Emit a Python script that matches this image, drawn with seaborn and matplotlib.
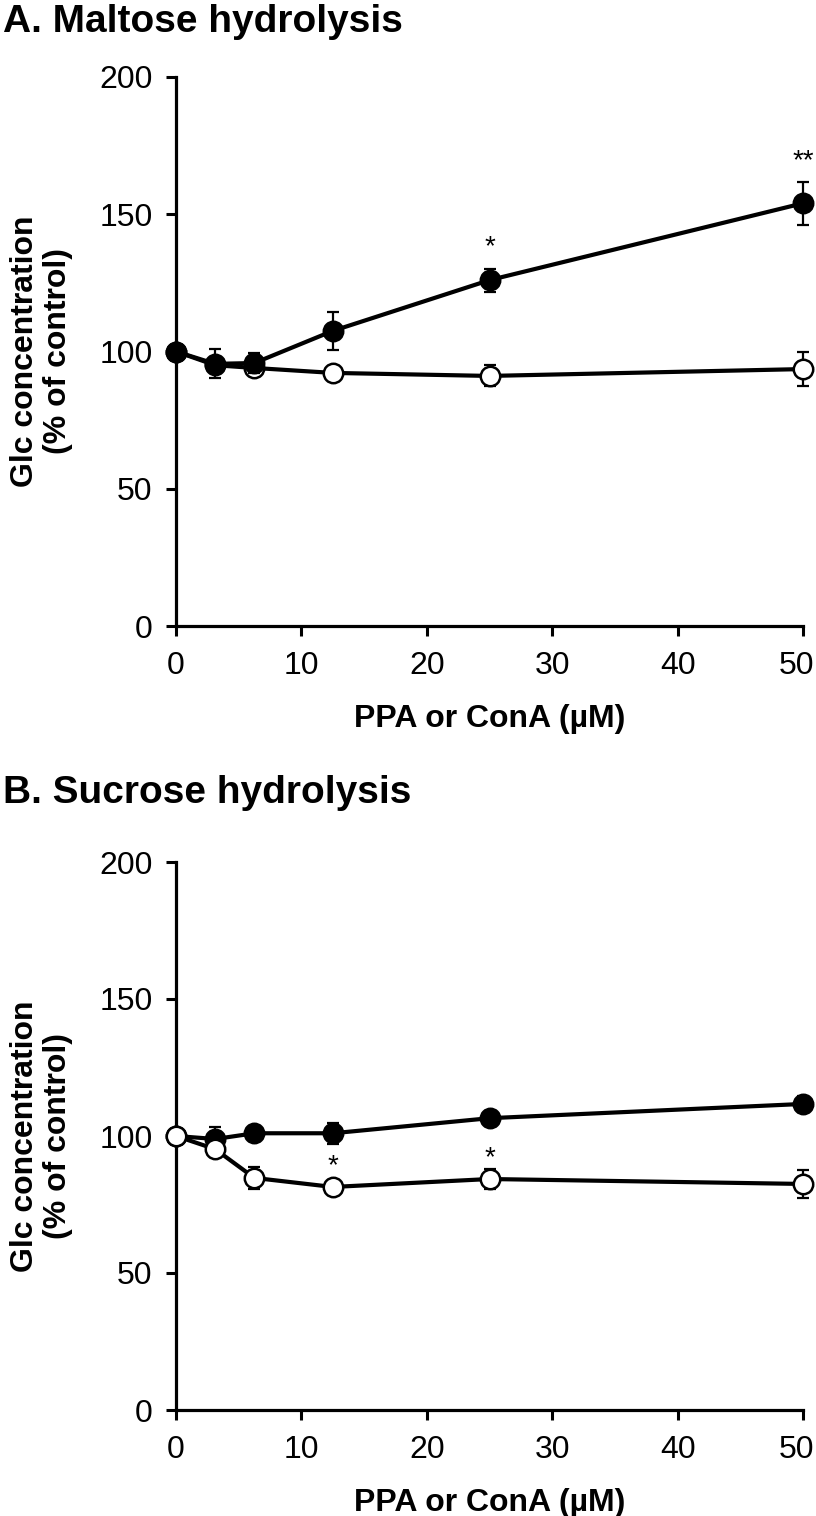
import matplotlib
matplotlib.use("Agg")
import matplotlib.pyplot as plt
from matplotlib.transforms import ScaledTranslation
import seaborn as sns
import pandas as pd

# ---------------- data ----------------
conc = [0, 3.125, 6.25, 12.5, 25, 50]

# Panel A: maltose hydrolysis
a_filled = [100, 95.5, 95.8, 107.5, 126, 154]
a_filled_err = [0, 5.3, 3.6, 7.0, 4.2, 7.8]
a_open = [100, 95, 94, 92.2, 91.1, 93.6]
a_open_err = [0, 2.0, 2.0, 2.0, 3.8, 6.2]

# Panel B: sucrose hydrolysis
b_filled = [100, 98.9, 101, 101, 106.5, 111.7]
b_filled_err = [0, 4.4, 1.5, 3.8, 2.5, 3.0]
b_open = [100, 95.2, 84.7, 81.4, 84.3, 82.5]
b_open_err = [0, 1.5, 4.0, 2.0, 3.7, 5.0]

# significance marks: (x, y, text)
a_marks = [(25, 138, "*"), (50, 169.5, "**")]
b_marks = [(12.5, 89, "*"), (25, 92, "*")]

titles = ["A. Maltose hydrolysis", "B. Sucrose hydrolysis"]
xlabel = "PPA or ConA (\u00b5M)"
ylabel = "Glc concentration\n(% of control)"
xticks = [0, 10, 20, 30, 40, 50]
yticks = [0, 50, 100, 150, 200]

# ---------------- style ----------------
sns.set_style("ticks")
plt.rcParams["font.family"] = ["Liberation Sans", "DejaVu Sans"]
plt.rcParams["text.color"] = "black"
plt.rcParams["axes.labelcolor"] = "black"
plt.rcParams["axes.edgecolor"] = "black"

W, H = 816, 1516
fig = plt.figure(figsize=(W / 100, H / 100), dpi=100)


def make_panel(rect, filled, ferr, opened, oerr, marks, title, title_y, open_on_top):
    ax = fig.add_axes(rect)
    df = pd.DataFrame({
        "conc": conc * 2,
        "value": list(filled) + list(opened),
        "err": list(ferr) + list(oerr),
        "series": ["filled"] * len(conc) + ["open"] * len(conc),
    })
    z_f, z_o = (3, 4) if open_on_top else (4, 3)
    for s, face, z in [("filled", "black", z_f), ("open", "white", z_o)]:
        sub = df[df.series == s]
        ax.errorbar(sub["conc"], sub["value"], yerr=sub["err"], fmt="none",
                    ecolor="black", elinewidth=1.6, capsize=4.5, capthick=1.6,
                    zorder=z - 0.5, clip_on=False)
        sns.lineplot(data=sub, x="conc", y="value", ax=ax, color="black",
                     linewidth=3.0, marker="o", markersize=14,
                     markerfacecolor=face, markeredgecolor="black",
                     markeredgewidth=1.8, zorder=z, clip_on=False,
                     legend=False)
    for x, y, t in marks:
        ax.text(x, y, t, ha="center", va="center", fontsize=20,
                family=["Liberation Sans"], color="black", zorder=6)

    ax.set_xlim(0, 50)
    ax.set_ylim(0, 200)
    ax.set_xticks(xticks)
    ax.set_yticks(yticks)
    ax.set_xticklabels([str(v) for v in xticks], fontsize=23)
    ax.set_yticklabels([str(v) for v in yticks], fontsize=23)
    sns.despine(ax=ax)
    for sp in ["left", "bottom"]:
        ax.spines[sp].set_linewidth(2.3)
        ax.spines[sp].set_color("black")
    ax.tick_params(axis="both", direction="out", length=7, width=2.2,
                   color="black", labelcolor="black", pad=10)
    ax.tick_params(axis="x", pad=11)
    # keep the last x tick label inside the figure
    last = ax.get_xticklabels()[-1]
    last.set_transform(last.get_transform() + ScaledTranslation(-6 / 100, 0, fig.dpi_scale_trans))
    ax.set_xlabel(xlabel, fontsize=23, fontweight="bold", color="black")
    ax.set_ylabel(ylabel, fontsize=23, fontweight="bold", multialignment="center",
                  linespacing=1.12, color="black")
    ax.xaxis.set_label_coords(0.5, -0.142)
    ax.yaxis.set_label_coords(-0.164, 0.5)
    fig.text(3 / W, 1 - title_y / H, title, fontsize=28, fontweight="bold",
             ha="left", va="center", color="black")
    return ax


axA = make_panel([176 / W, 1 - 626 / H, 627 / W, 549 / H],
                 a_filled, a_filled_err, a_open, a_open_err, a_marks,
                 titles[0], 22, open_on_top=False)
axB = make_panel([176 / W, 1 - 1410 / H, 627 / W, 548 / H],
                 b_filled, b_filled_err, b_open, b_open_err, b_marks,
                 titles[1], 793, open_on_top=True)

fig.savefig("out.png", dpi=100, facecolor="white")
